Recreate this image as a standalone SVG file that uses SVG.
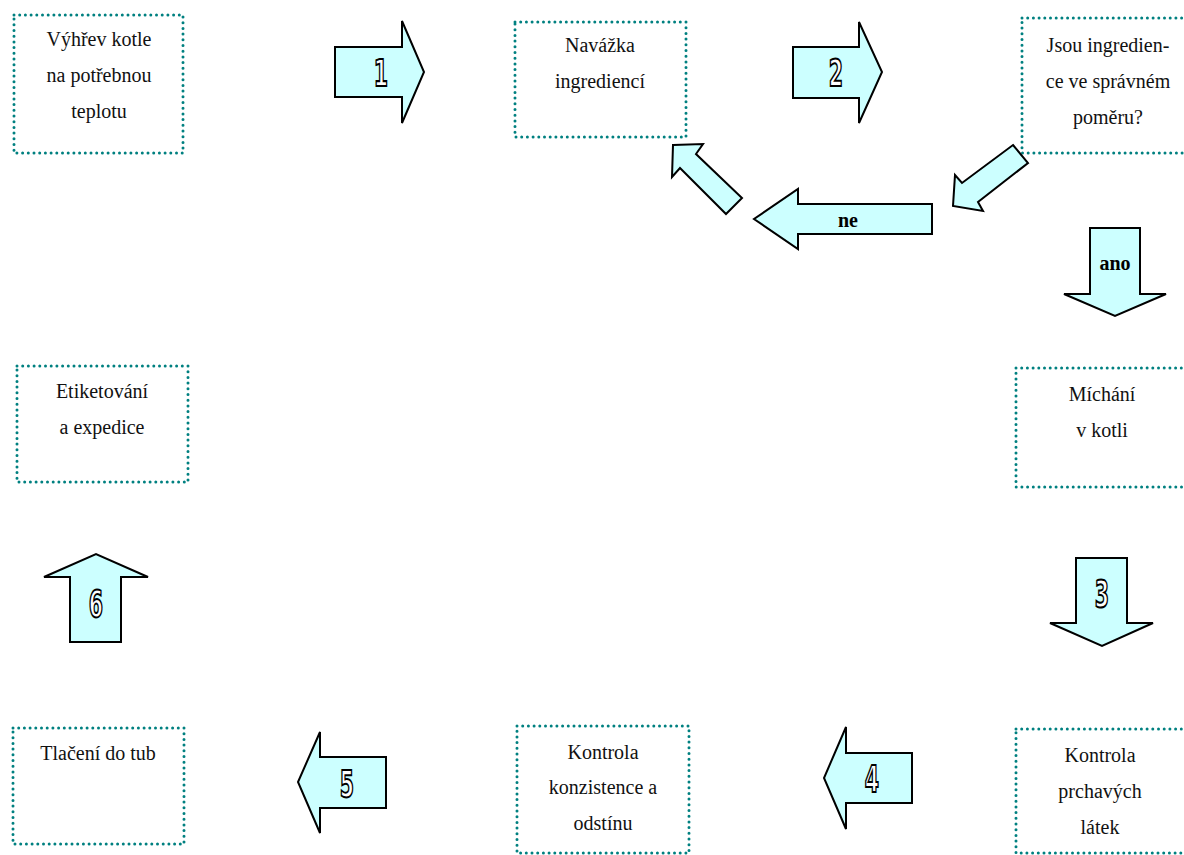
<svg xmlns="http://www.w3.org/2000/svg" width="1184" height="855" viewBox="0 0 1184 855">
<style>
.box{fill:none;stroke:#008080;stroke-width:3;stroke-dasharray:0 5.7;stroke-linecap:round;stroke-linejoin:round}
.t{font-family:"Liberation Serif","Times New Roman",serif;font-size:20px;fill:#111;text-anchor:middle}
.arr{fill:#CCFFFF;stroke:#000;stroke-width:2;stroke-linejoin:miter}
.lbl{font-family:"Liberation Serif","Times New Roman",serif;font-size:20px;font-weight:bold;fill:#000;text-anchor:middle}
.num{font-family:"DejaVu Sans Condensed","DejaVu Sans",sans-serif;font-size:38px;font-weight:bold;fill:#fff;stroke:#000;stroke-width:2;text-anchor:middle;paint-order:normal}
</style>
<rect width="1184" height="855" fill="#fff"/>

<g id="n1">
<rect class="box" x="14" y="15" width="169" height="138"/>
<text class="t" x="99" y="46">Výhřev kotle</text>
<text class="t" x="99" y="82">na potřebnou</text>
<text class="t" x="99" y="118">teplotu</text>
</g>
<g id="n2">
<rect class="box" x="515" y="22" width="171" height="115"/>
<text class="t" x="600" y="52">Navážka</text>
<text class="t" x="600" y="88">ingrediencí</text>
</g>
<g id="n3">
<rect class="box" x="1022" y="18" width="175" height="135"/>
<text class="t" x="1108" y="52">Jsou ingredien-</text>
<text class="t" x="1108" y="88">ce ve správném</text>
<text class="t" x="1108" y="124">poměru?</text>
</g>
<g id="n4">
<rect class="box" x="1016" y="368" width="180" height="119"/>
<text class="t" x="1102" y="401">Míchání</text>
<text class="t" x="1102" y="437">v kotli</text>
</g>
<g id="n5">
<rect class="box" x="1016" y="729" width="180" height="124"/>
<text class="t" x="1100" y="762">Kontrola</text>
<text class="t" x="1100" y="798">prchavých</text>
<text class="t" x="1100" y="834">látek</text>
</g>
<g id="n6">
<rect class="box" x="517" y="726" width="172" height="127"/>
<text class="t" x="603" y="759">Kontrola</text>
<text class="t" x="603" y="794">konzistence a</text>
<text class="t" x="603" y="830">odstínu</text>
</g>
<g id="n7">
<rect class="box" x="13" y="728" width="171" height="116"/>
<text class="t" x="98" y="760">Tlačení do tub</text>
</g>
<g id="n8">
<rect class="box" x="17" y="366" width="171" height="116"/>
<text class="t" x="102" y="398">Etiketování</text>
<text class="t" x="102" y="434">a expedice</text>
</g>

<g id="connectors">
<g id="a1">
<polygon class="arr" points="335,47 402,47 402,21 424,72 402,123 402,97 335,97"/>
<text class="num" transform="translate(381,86) scale(0.6,1)">1</text>
</g>
<g id="a2">
<polygon class="arr" points="793,47 859,47 859,22 882,72 859,123 859,98 793,98"/>
<text class="num" transform="translate(836,86) scale(0.6,1)">2</text>
</g>
<g id="a-diag1">
<polygon class="arr" points="1013,145 1028,163 978,202 983,211 953,206 955,175 962,183"/>
</g>
<g id="a-ne">
<polygon class="arr" points="932,204 798,204 798,189 754,219 798,249 798,234 932,234"/>
<text class="lbl" x="848" y="227">ne</text>
</g>
<g id="a-diag2">
<polygon class="arr" points="673,145 703,144 696,154 742,198 726,214 680,168 672,177"/>
</g>
<g id="a-ano">
<polygon class="arr" points="1090,228 1140,228 1140,294 1166,294 1115,316 1064,294 1090,294"/>
<text class="lbl" x="1115" y="270">ano</text>
</g>
<g id="a3">
<polygon class="arr" points="1076,558 1127,558 1127,623 1153,623 1102,646 1050,623 1076,623"/>
<text class="num" transform="translate(1102,607) scale(0.6,1)">3</text>
</g>
<g id="a4">
<polygon class="arr" points="912,753 846,753 846,727 824,778 846,829 846,803 912,803"/>
<text class="num" transform="translate(872,792) scale(0.6,1)">4</text>
</g>
<g id="a5">
<polygon class="arr" points="386,757 320,757 320,732 298,782 320,833 320,808 386,808"/>
<text class="num" transform="translate(347,797) scale(0.6,1)">5</text>
</g>
<g id="a6">
<polygon class="arr" points="70,642 70,577 44,577 96,554 148,577 121,577 121,642"/>
<text class="num" transform="translate(96,617) scale(0.6,1)">6</text>
</g>
</g>
</svg>
